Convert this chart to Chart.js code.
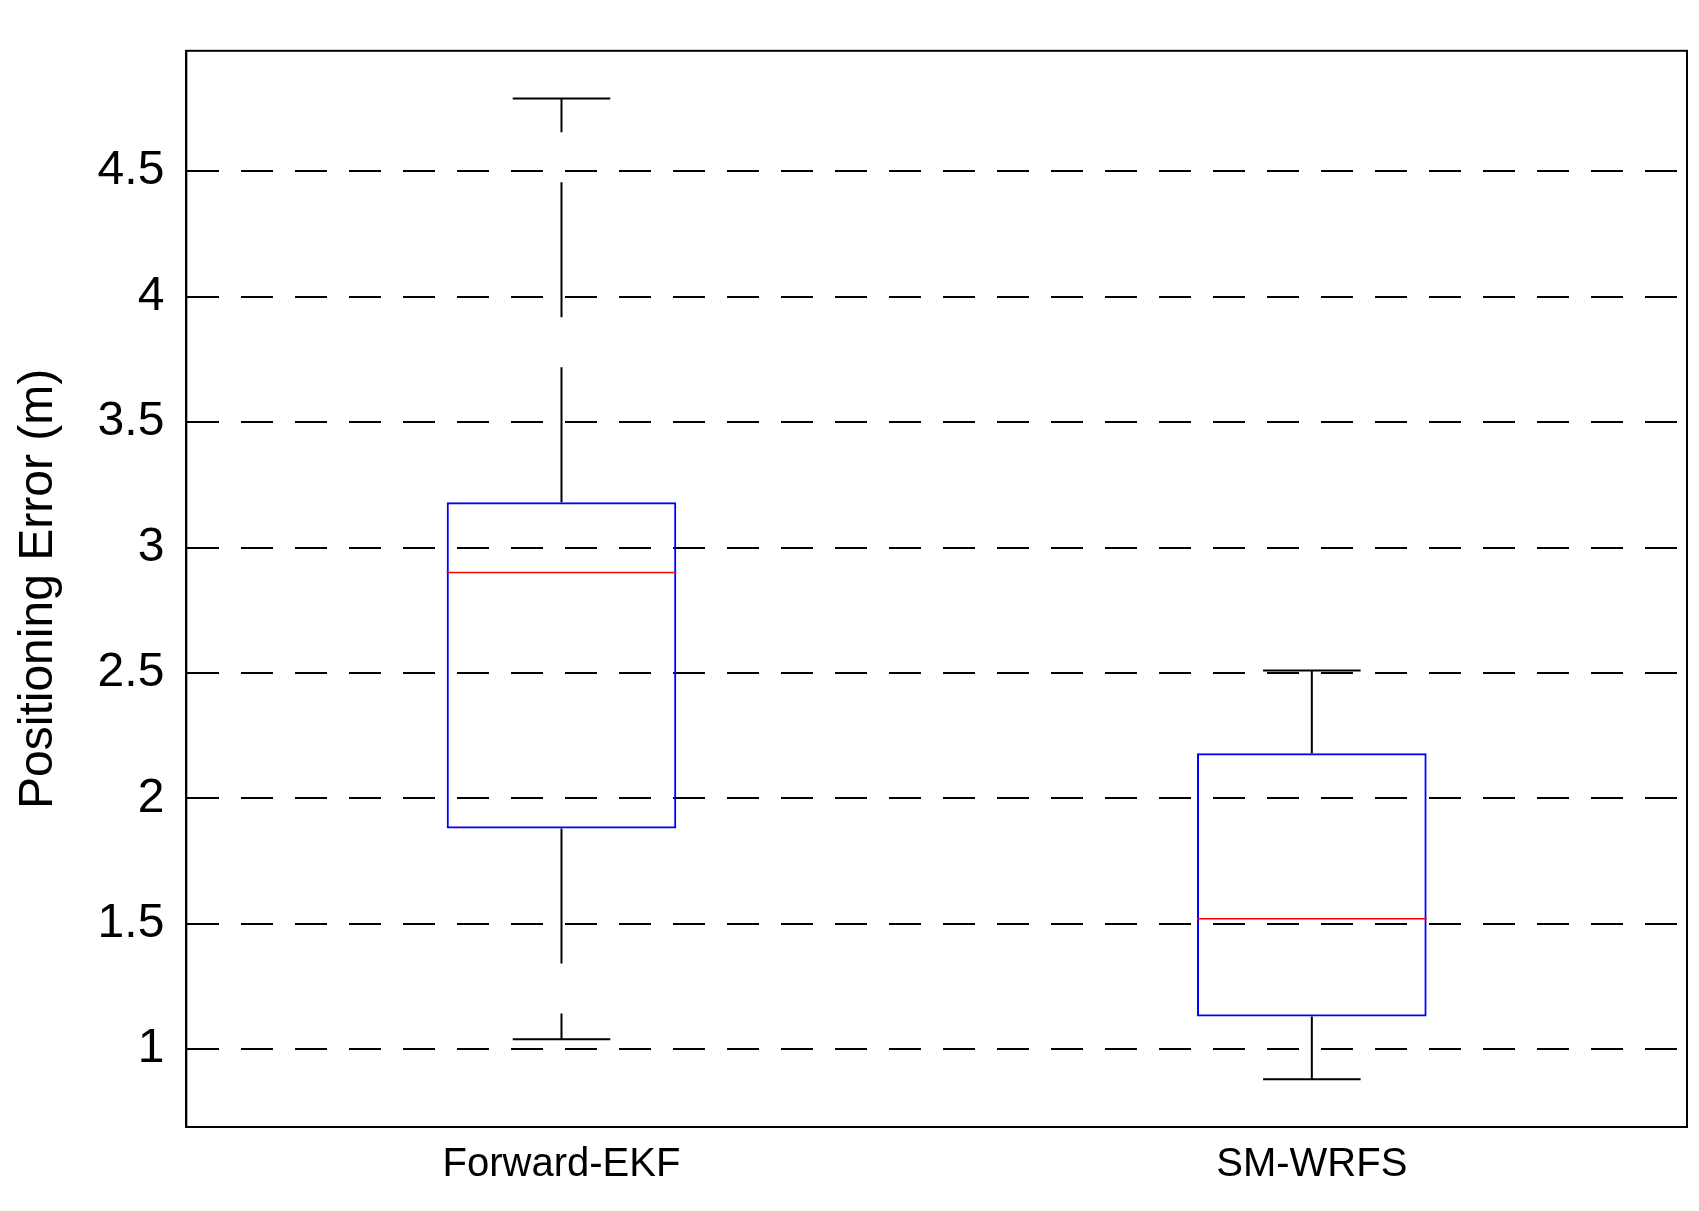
<!DOCTYPE html>
<html><head><meta charset="utf-8">
<script src="https://cdn.jsdelivr.net/npm/chart.js@4"></script>
<style>body{margin:0;background:#fff}#w{width:1699px;height:1211px}</style>
</head><body><div id="w"><canvas id="c"></canvas></div>
<script>
const categories = ["Forward-EKF", "SM-WRFS"];
const whiskerLow = [1.04, 0.88];
const q1 = [1.88, 1.13];
const median = [2.90, 1.52];
const q3 = [3.18, 2.18];
const whiskerHigh = [4.79, 2.51];
const yTicks = [1, 1.5, 2, 2.5, 3, 3.5, 4, 4.5];

const boxPlugin = {
  id: "boxExtras",
  afterDatasetsDraw(chart) {
    const ctx = chart.ctx, x = chart.scales.x, y = chart.scales.y;
    const catW = x.getPixelForValue(1) - x.getPixelForValue(0);
    categories.forEach((c, i) => {
      const cx = x.getPixelForValue(i), half = catW * 0.306 / 2, cap = catW * 0.065;
      ctx.save();
      ctx.strokeStyle = "#000"; ctx.lineWidth = 2;
      ctx.setLineDash([135, 50]);
      ctx.beginPath();
      ctx.moveTo(cx, y.getPixelForValue(q3[i])); ctx.lineTo(cx, y.getPixelForValue(whiskerHigh[i]));
      ctx.moveTo(cx, y.getPixelForValue(q1[i])); ctx.lineTo(cx, y.getPixelForValue(whiskerLow[i]));
      ctx.stroke();
      ctx.setLineDash([]);
      ctx.beginPath();
      [whiskerHigh[i], whiskerLow[i]].forEach(v => {
        const py = y.getPixelForValue(v);
        ctx.moveTo(cx - cap, py); ctx.lineTo(cx + cap, py);
      });
      ctx.stroke();
      ctx.strokeStyle = "#ff0000"; ctx.lineWidth = 1.5;
      ctx.beginPath();
      const my = y.getPixelForValue(median[i]);
      ctx.moveTo(cx - half, my); ctx.lineTo(cx + half, my);
      ctx.stroke();
      ctx.restore();
    });
  }
};

new Chart(document.getElementById("c"), {
  type: "bar",
  data: {
    labels: categories,
    datasets: [{
      data: q1.map((v, i) => [v, q3[i]]),
      backgroundColor: "rgba(0,0,0,0)",
      borderColor: "#0000ff",
      borderWidth: 2,
      borderSkipped: false,
      categoryPercentage: 1,
      barPercentage: 0.306
    }]
  },
  options: {
    responsive: true, maintainAspectRatio: false, animation: false,
    layout: { padding: { top: 13, right: 12, left: 2, bottom: 8 } },
    plugins: { legend: { display: false }, tooltip: { enabled: false } },
    scales: {
      x: {
        grid: { display: false, drawTicks: false },
        border: { color: "#000", width: 2 },
        ticks: { color: "#000", font: { family: "Arial, Liberation Sans", size: 40 }, padding: 14 }
      },
      y: {
        min: 0.69, max: 4.98,
        afterBuildTicks: s => { s.ticks = yTicks.map(v => ({ value: v })); },
        grid: { color: "#000", lineWidth: 2, drawTicks: false },
        border: { color: "#000", width: 2, dash: [32, 22] },
        ticks: { color: "#000", font: { family: "Arial, Liberation Sans", size: 48 }, padding: 22,
                 callback: v => String(v) },
        title: { display: true, text: "Positioning Error (m)", color: "#000",
                 font: { family: "Arial, Liberation Sans", size: 48 }, padding: 8 }
      }
    }
  },
  plugins: [boxPlugin, {
    id: "frame",
    afterDraw(chart) {
      const a = chart.chartArea, ctx = chart.ctx;
      ctx.save(); ctx.strokeStyle = "#000"; ctx.lineWidth = 2; ctx.setLineDash([]);
      ctx.strokeRect(a.left, a.top, a.right - a.left, a.bottom - a.top);
      ctx.restore();
    }
  }]
});
</script></body></html>
